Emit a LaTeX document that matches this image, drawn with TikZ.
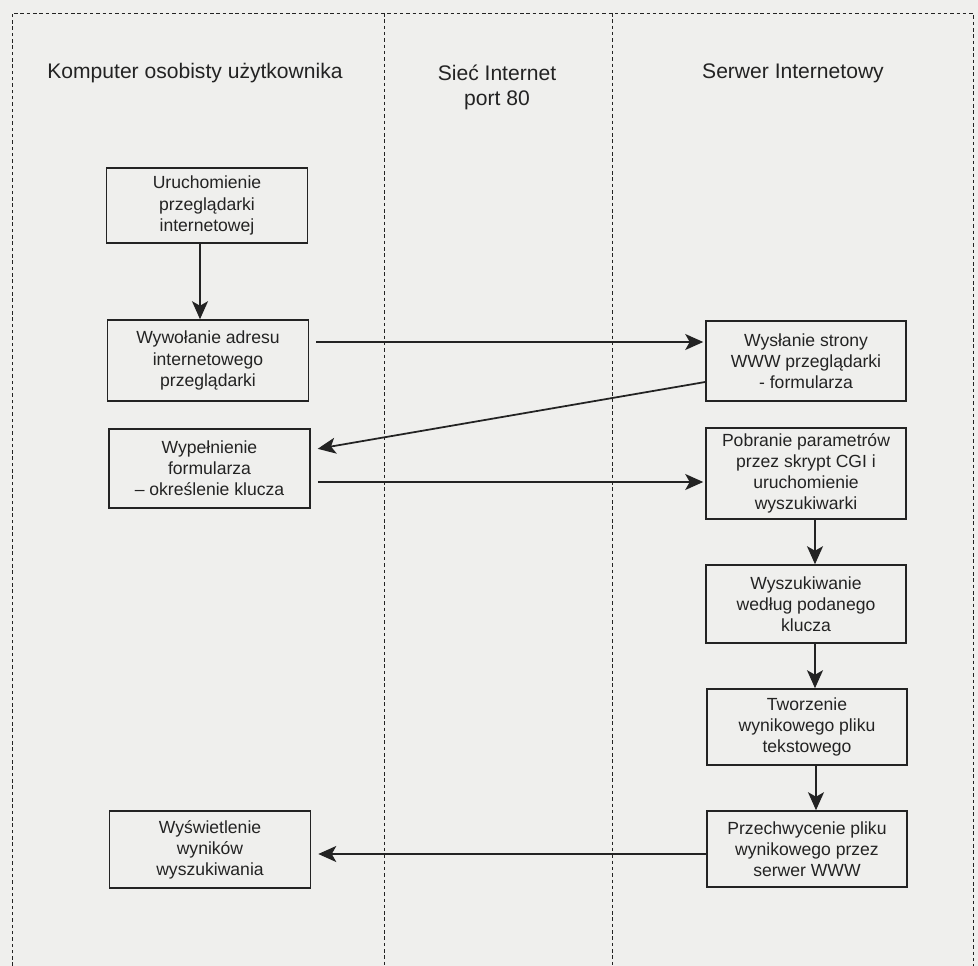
\documentclass[tikz,border=0pt]{standalone}
\usepackage{fontspec}
\setmainfont{Liberation Sans}
\usetikzlibrary{arrows.meta,positioning}
\definecolor{scangray}{RGB}{239,239,237}
\definecolor{inkgray}{RGB}{35,35,35}

\begin{document}
\begin{tikzpicture}[x=0.02cm, y=-0.02cm,
  proc/.style={draw=inkgray, line width=0.9pt, minimum width=4.02cm, minimum height=1.56cm,
               align=center, inner sep=2pt, font=\fontsize{10}{12}\selectfont, text=inkgray},
  head/.style={align=center, font=\fontsize{12}{14.2}\selectfont, text=inkgray},
  lane/.style={draw=inkgray, line width=0.5pt, dash pattern=on 2pt off 1.6pt},
  flow/.style={draw=inkgray, line width=1pt, -{Stealth[length=3.6mm,width=3.2mm,inset=0.9mm]}}]
\fill[scangray] (0,0) rectangle (978,966);
\useasboundingbox (0,0) rectangle (978,966);

% Lanes
\draw[lane] (12,966) -- (12,13) -- (973,13) -- (973,966);
\draw[lane] (384,13) -- (384,966);
\draw[lane] (612,13) -- (612,966);
\node[head] (komp) at (195,73) {Komputer osobisty użytkownika};
\node[head] (siec) at (497,87.5) {Sieć Internet\\port 80};
\node[head] (serwer) at (793,73) {Serwer Internetowy};

% Client side
\node[proc, minimum height=1.5cm] (uruch) at (207,205.5) {Uruchomienie\\przeglądarki\\internetowej};
\node[proc, minimum height=1.62cm] (wywol) at (208,360.5) {Wywołanie adresu\\internetowego\\przeglądarki};
\node[proc, minimum height=1.58cm] (wypeln) at (209.5,468.5) {Wypełnienie\\formularza\\– określenie klucza};
\node[proc, minimum height=1.54cm] (wyswiet) at (210,849.5) {Wyświetlenie\\wyników\\wyszukiwania};

% Server side
\node[proc, minimum width=4cm, minimum height=1.6cm] (wyslanie) at (806,361) {Wysłanie strony\\WWW przeglądarki\\- formularza};
\node[proc, minimum width=4cm, minimum height=1.82cm] (pobranie) at (806,473.5) {Pobranie parametrów\\przez skrypt CGI i\\uruchomienie\\wyszukiwarki};
\node[proc, minimum width=4cm] (wyszuk) at (806,604) {Wyszukiwanie\\według podanego\\klucza};
\node[proc, minimum width=4cm, minimum height=1.52cm] (tworz) at (807,727) {Tworzenie\\wynikowego pliku\\tekstowego};
\node[proc, minimum width=4cm, minimum height=1.52cm] (przechw) at (807,849) {Przechwycenie pliku\\wynikowego przez\\serwer WWW};

% Flow
\draw[flow] ([xshift=-1.4mm]uruch.south) -- ([xshift=-1.4mm]uruch.south |- wywol.north);
\draw[flow, shorten <=1.4mm, shorten >=0.4mm] ([yshift=3.7mm]wywol.east) -- ([yshift=3.7mm]wywol.east -| wyslanie.west);
\draw[flow, shorten >=1.4mm] ([yshift=-4.2mm]wyslanie.west) -- ([yshift=3.7mm]wypeln.east);
\draw[flow, shorten <=1.4mm, shorten >=0.4mm] ([yshift=-2.7mm]wypeln.east) -- ([yshift=-2.7mm]wypeln.east -| pobranie.west);
\draw[flow] ([xshift=1.8mm]pobranie.south) -- ([xshift=1.8mm]pobranie.south |- wyszuk.north);
\draw[flow] ([xshift=1.8mm]wyszuk.south) -- ([xshift=1.8mm]wyszuk.south |- tworz.north);
\draw[flow] ([xshift=1.8mm]tworz.south) -- ([xshift=1.8mm]tworz.south |- przechw.north);
\draw[flow, shorten >=1.4mm] ([yshift=-1mm]przechw.west) -- ([yshift=-1mm]przechw.west -| wyswiet.east);
\end{tikzpicture}
\end{document}
